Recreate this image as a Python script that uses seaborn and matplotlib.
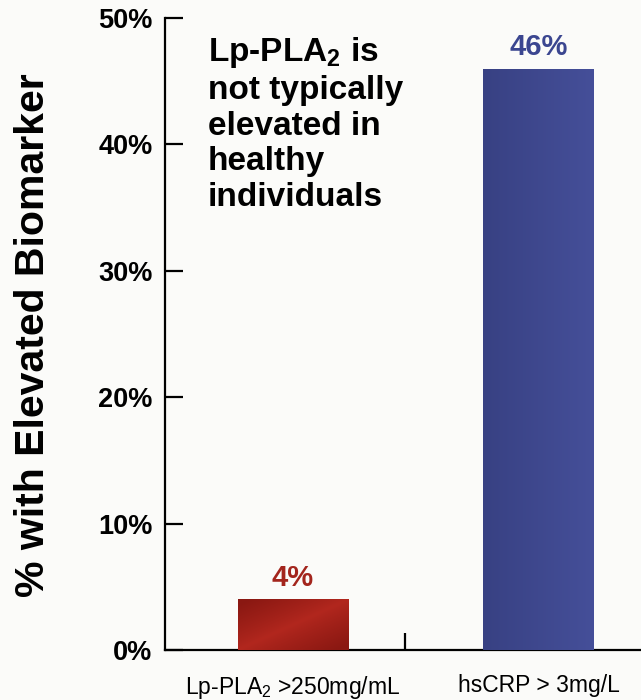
import numpy as np
import pandas as pd
import matplotlib
matplotlib.use("Agg")
import matplotlib.pyplot as plt
import matplotlib.colors as mcolors
import seaborn as sns

# Chart data
categories = ["Lp-PLA$_2$ >250mg/mL", "hsCRP > 3mg/L"]
values = [4, 46]
value_labels = ["4%", "46%"]
label_colors = ["#a3251d", "#3b4690"]
y_ticks = [0, 10, 20, 30, 40, 50]
y_tick_labels = ["0%", "10%", "20%", "30%", "40%", "50%"]
note_lines = [r"Lp-PLA$_\mathbf{2}$ is", "not typically", "elevated in", "healthy", "individuals"]
y_title = "% with Elevated Biomarker"

sns.set_theme(style="white")
plt.rcParams["font.family"] = ["Liberation Sans", "DejaVu Sans"]
plt.rcParams["mathtext.fontset"] = "custom"
plt.rcParams["mathtext.rm"] = "Liberation Sans"
plt.rcParams["mathtext.it"] = "Liberation Sans:italic"
plt.rcParams["mathtext.bf"] = "Liberation Sans:bold"

bg = "#fbfbf9"
W, H = 641, 700
fig = plt.figure(figsize=(W / 100, H / 100), dpi=100, facecolor=bg)
ax = fig.add_axes([165 / W, 50 / H, 1 - 165 / W, 632 / H])
ax.set_facecolor(bg)

df = pd.DataFrame({"category": categories, "value": values})
sns.barplot(data=df, x="category", y="value", hue="category",
            palette=["#a3221b", "#3f4891"], width=0.448, saturation=1,
            legend=False, ax=ax, zorder=2)

# shaded fills laid over each bar, clipped to the bar outline
def red_fill(n=60, m=120):
    yy, xx = np.mgrid[1:0:n * 1j, 0:1:m * 1j]
    d = np.clip(np.abs(xx - yy) * 1.1, 0, 1) ** 0.9
    dark = np.array(mcolors.to_rgb("#8a1812"))
    bright = np.array(mcolors.to_rgb("#b2271e"))
    return bright * (1 - d[..., None]) + dark * d[..., None]

def blue_fill(n=60, m=120):
    yy, xx = np.mgrid[1:0:n * 1j, 0:1:m * 1j]
    t = xx
    dark = np.array(mcolors.to_rgb("#384183"))
    bright = np.array(mcolors.to_rgb("#454f99"))
    return dark * (1 - t[..., None]) + bright * t[..., None]

fills = [red_fill(), blue_fill()]
for patch, img in zip(ax.patches, fills):
    x0, y0 = patch.get_x(), patch.get_y()
    w, h = patch.get_width(), patch.get_height()
    im = ax.imshow(img, extent=(x0, x0 + w, y0, y0 + h), aspect="auto",
                   interpolation="bilinear", zorder=3)
    im.set_clip_path(patch)

ax.set_xlim(-0.521, 1.4175)
ax.set_ylim(0, 50)

# value labels above the bars
for i, (v, lab, c) in enumerate(zip(values, value_labels, label_colors)):
    ax.text(i, v + 1.1, lab, ha="center", va="baseline",
            fontsize=21, fontweight="bold", color=c, zorder=4)

# axes styling
for side in ["top", "right"]:
    ax.spines[side].set_visible(False)
for side in ["left", "bottom"]:
    ax.spines[side].set_color("black")
    ax.spines[side].set_linewidth(1.6)

ax.set_yticks(y_ticks, y_tick_labels)
ax.tick_params(axis="y", direction="in", length=13, width=1.6, color="black",
               pad=9, left=True, labelsize=19.5, labelcolor="black")
for t in ax.get_yticklabels():
    t.set_fontweight("bold")

ax.set_xticks([0, 1], categories)
ax.tick_params(axis="x", which="major", length=0, pad=17, labelsize=16.5,
               labelcolor="black")
ax.set_xticks([0.455], minor=True)
ax.tick_params(axis="x", which="minor", direction="in", length=12, width=1.6,
               color="black", bottom=True)
ax.set_xlabel("")
ax.set_ylabel("")

fig.text(33 / W, 1 - 335 / H, y_title, rotation=90, ha="center", va="center",
         fontsize=29.5, fontweight="bold", color="black")

fig.text(208 / W, 1 - 35 / H, "\n".join(note_lines), ha="left", va="top",
         fontsize=24, fontweight="bold", color="black", linespacing=1.2)

fig.savefig("out.png", dpi=100, facecolor=bg)
